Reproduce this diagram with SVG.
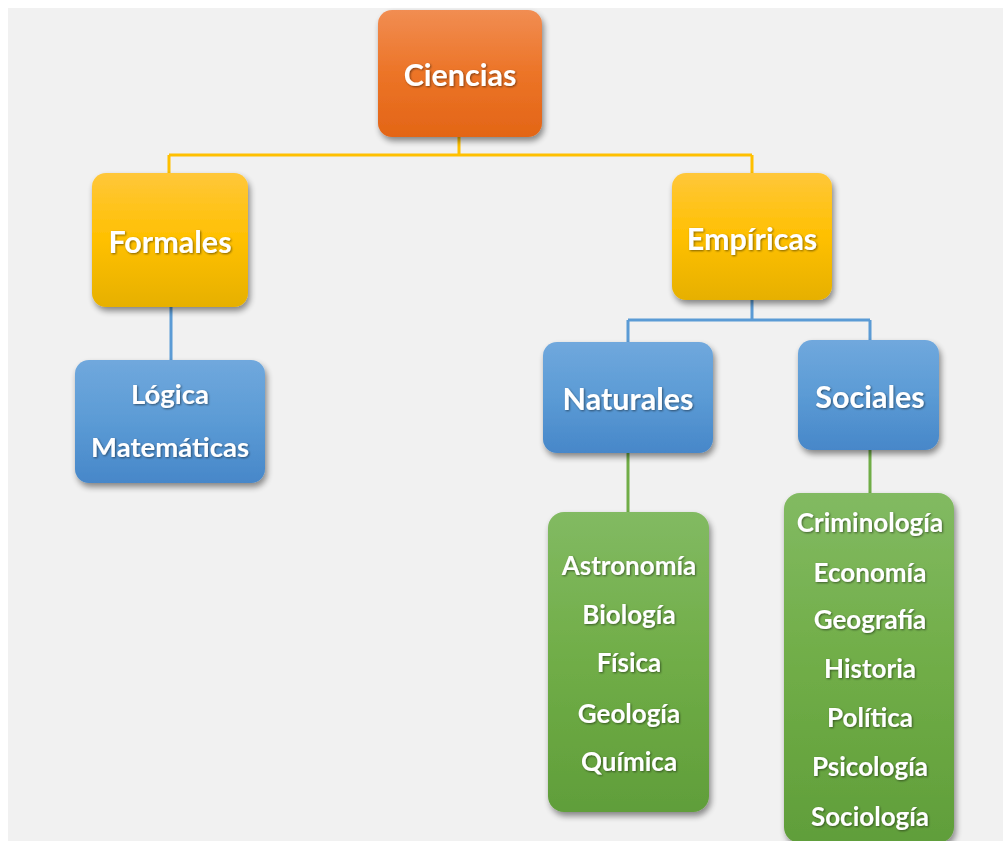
<svg xmlns="http://www.w3.org/2000/svg" width="1003" height="841" viewBox="0 0 1003 841">
<defs>
<linearGradient id="gO" x1="0" y1="0" x2="0" y2="1"><stop offset="0" stop-color="#f18d52"/><stop offset="0.5" stop-color="#ec7427"/><stop offset="1" stop-color="#e36516"/></linearGradient>
<linearGradient id="gY" x1="0" y1="0" x2="0" y2="1"><stop offset="0" stop-color="#ffc73a"/><stop offset="0.5" stop-color="#ffc000"/><stop offset="1" stop-color="#e6b000"/></linearGradient>
<linearGradient id="gB" x1="0" y1="0" x2="0" y2="1"><stop offset="0" stop-color="#70a8dd"/><stop offset="0.5" stop-color="#5b9bd5"/><stop offset="1" stop-color="#4787c9"/></linearGradient>
<linearGradient id="gG" x1="0" y1="0" x2="0" y2="1"><stop offset="0" stop-color="#82ba62"/><stop offset="0.5" stop-color="#70ad47"/><stop offset="1" stop-color="#609e3a"/></linearGradient>
<filter id="sh" x="-10%" y="-10%" width="125%" height="125%"><feGaussianBlur in="SourceAlpha" stdDeviation="3"/><feOffset dx="2" dy="4"/><feComponentTransfer><feFuncA type="linear" slope="0.45"/></feComponentTransfer><feMerge><feMergeNode/><feMergeNode in="SourceGraphic"/></feMerge></filter>
<filter id="ts" x="-10%" y="-20%" width="120%" height="140%"><feGaussianBlur in="SourceAlpha" stdDeviation="0.8"/><feOffset dx="1" dy="1"/><feComponentTransfer><feFuncA type="linear" slope="0.5"/></feComponentTransfer><feMerge><feMergeNode/><feMergeNode in="SourceGraphic"/></feMerge></filter>
</defs>
<style>
.t{font-family:Lato,"Liberation Sans",sans-serif;font-weight:bold;fill:#fff;text-anchor:middle;dominant-baseline:central;filter:url(#ts)}
.big{font-size:30.5px}
.mid{font-size:27.5px}
.sm{font-size:26px}
.c{fill:none;stroke-width:3}
</style>
<rect x="0" y="0" width="1003" height="841" fill="#ffffff"/>
<rect x="8" y="8" width="995" height="833" fill="#f1f1f1"/>
<g id="connectors">
<path class="c" stroke="#ffc000" d="M459,137 V155 M169,155 H752 M169,155 V173 M752,155 V173"/>
<path class="c" stroke="#5b9bd5" d="M171,307 V360 M752,300 V320 M628,320 H870 M628,320 V342 M870,320 V340"/>
<path class="c" stroke="#70ad47" d="M628,453 V512 M870,450 V493"/>
</g>
<g id="ciencias" filter="url(#sh)"><rect x="378" y="10" width="164" height="127" rx="14" fill="url(#gO)"/><text class="t big" x="460" y="74">Ciencias</text></g>
<g id="formales" filter="url(#sh)"><rect x="92" y="173" width="156" height="134" rx="14" fill="url(#gY)"/><text class="t big" x="170" y="241">Formales</text></g>
<g id="empiricas" filter="url(#sh)"><rect x="672" y="173" width="160" height="127" rx="14" fill="url(#gY)"/><text class="t big" x="752" y="238">Empíricas</text></g>
<g id="logica" filter="url(#sh)"><rect x="75" y="360" width="190" height="123" rx="14" fill="url(#gB)"/><text class="t mid" x="170" y="393">Lógica</text><text class="t mid" x="170" y="446">Matemáticas</text></g>
<g id="naturales" filter="url(#sh)"><rect x="543" y="342" width="170" height="111" rx="14" fill="url(#gB)"/><text class="t big" x="628" y="398">Naturales</text></g>
<g id="sociales" filter="url(#sh)"><rect x="798" y="340" width="141" height="110" rx="14" fill="url(#gB)"/><text class="t big" x="870" y="396">Sociales</text></g>
<g id="naturales-list" filter="url(#sh)"><rect x="548" y="512" width="161" height="300" rx="16" fill="url(#gG)"/>
<text class="t sm" x="629" y="565">Astronomía</text>
<text class="t sm" x="629" y="614">Biología</text>
<text class="t sm" x="629" y="662">Física</text>
<text class="t sm" x="629" y="713">Geología</text>
<text class="t sm" x="629" y="761">Química</text>
</g>
<g id="sociales-list" filter="url(#sh)"><rect x="784" y="493" width="170" height="350" rx="16" fill="url(#gG)"/>
<text class="t sm" x="870" y="522">Criminología</text>
<text class="t sm" x="870" y="572">Economía</text>
<text class="t sm" x="870" y="619">Geografía</text>
<text class="t sm" x="870" y="668">Historia</text>
<text class="t sm" x="870" y="717">Política</text>
<text class="t sm" x="870" y="766">Psicología</text>
<text class="t sm" x="870" y="816">Sociología</text>
</g>
</svg>
